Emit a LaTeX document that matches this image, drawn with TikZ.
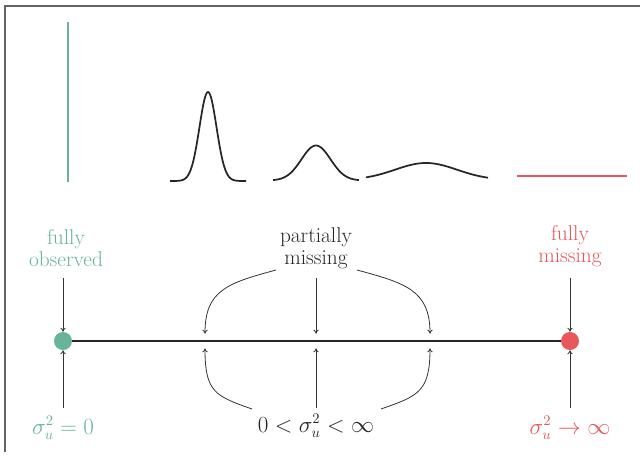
\documentclass[tikz,border=0pt]{standalone}
\usepackage{fontspec}
\usetikzlibrary{arrows.meta}
\definecolor{obsgreen}{RGB}{104,179,155}
\definecolor{missred}{RGB}{232,88,90}
\definecolor{framegray}{RGB}{100,100,100}
\tikzset{
  lbl/.style={font=\fontsize{16}{16.5}\selectfont, align=center, inner sep=0pt},
  pointer/.style={-{To[length=3pt,width=4pt]}, line width=0.6pt, black!80},
  curve/.style={line width=1.3pt, black!85, line join=round},
  dot/.style={circle, inner sep=0pt, minimum size=13.5pt}
}
\begin{document}
\begin{tikzpicture}[x=0.75pt, y=-0.75pt]
\useasboundingbox (0,0) rectangle (640,458);
\fill[white] (0,0) rectangle (640,458);
% frame
\draw[framegray, line width=0.9pt] (5,452) -- (5,6) -- (640,6);
% distributions
\draw[obsgreen, line width=2pt] (68,22) -- (68,182);
\draw[curve] plot[domain=170:246, samples=90] (\x, {181 - 89*exp(-((\x-208)/8.5)^2/2)});
\draw[curve] plot[domain=273:359, samples=80] (\x, {180.5 - 35*exp(-((\x-316)/14.5)^2/2)});
\draw[curve] plot[domain=366:488, samples=80] (\x, {180 - 17*exp(-((\x-426)/31)^2/2)});
\draw[missred, line width=2.2pt] (517,176) -- (627,176);
% axis
\coordinate (aL) at (63,341);
\coordinate (aR) at (570,341);
\draw[line width=1.8pt, black!85] (aL) -- (aR);
\node[dot, fill=obsgreen] (L) at (aL) {};
\node[dot, fill=missred] (R) at (aR) {};
\coordinate (pL) at (205,341);
\coordinate (pM) at (316,341);
\coordinate (pR) at (430,341);
% labels
\node[lbl, text=obsgreen] (fo) at (66,248) {fully\\observed};
\node[lbl, text=black!85] (pm) at (316,248) {partially\\missing};
\node[lbl, text=missred] (fm) at (570,246) {fully\\missing};
\node[lbl, text=obsgreen] (s0) at (63,428) {$\sigma_u^2 = 0$};
\node[lbl, text=black!85] (sm) at (316,426) {$0 < \sigma_u^2 < \infty$};
\node[lbl, text=missred] (si) at (570,428) {$\sigma_u^2 \to \infty$};
% pointers from top
\draw[pointer] (63,278) -- (L.north);
\draw[pointer] (570,278) -- (R.north);
\draw[pointer] (316,278) -- ([yshift=5.5pt]pM);
\draw[pointer] (276,270) .. controls (228,283) and (205,290) .. ([yshift=5.5pt]pL);
\draw[pointer] (357,270) .. controls (405,283) and (430,290) .. ([yshift=5.5pt]pR);
% pointers from bottom
\draw[pointer] (63,408) -- (L.south);
\draw[pointer] (570,408) -- (R.south);
\draw[pointer] (316,408) -- ([yshift=-5.5pt]pM);
\draw[pointer] (252,409) .. controls (215,396) and (205,392) .. ([yshift=-5.5pt]pL);
\draw[pointer] (381,409) .. controls (418,396) and (430,392) .. ([yshift=-5.5pt]pR);
\end{tikzpicture}
\end{document}
